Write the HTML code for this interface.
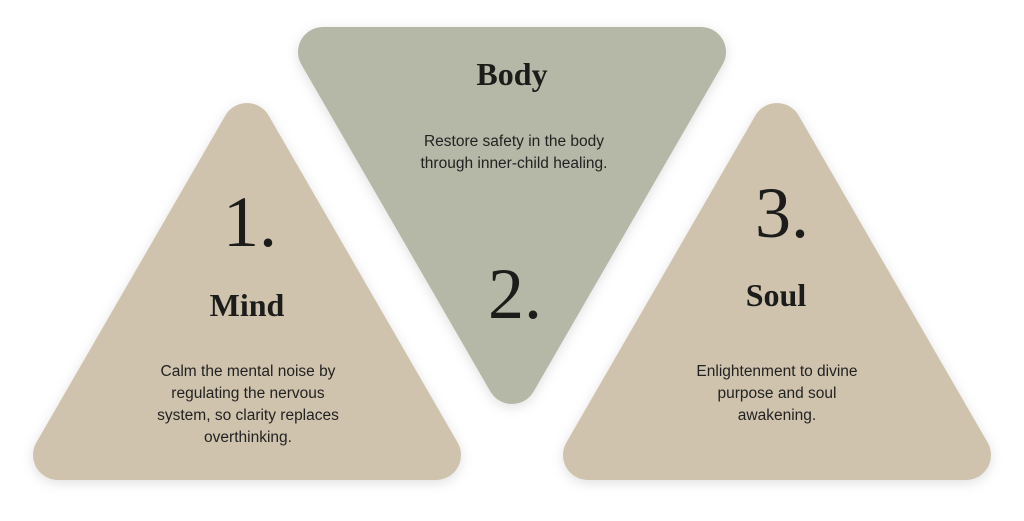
<!DOCTYPE html>
<html><head><style>
html,body{margin:0;padding:0;background:#fff;width:1024px;height:521px;overflow:hidden}
svg{display:block}
.s{font-family:"Liberation Serif",serif;fill:#1c1c1a;text-anchor:middle}
.t{font-family:"Liberation Sans",sans-serif;fill:#222;font-size:15.5px;text-anchor:middle}
</style></head><body>
<svg width="1024" height="521" viewBox="0 0 1024 521">
<defs><filter id="sh" x="-20%" y="-20%" width="140%" height="140%"><feDropShadow dx="0" dy="3" stdDeviation="6" flood-color="#000" flood-opacity="0.12"/></filter></defs>
<g stroke-linejoin="round" stroke-width="50" filter="url(#sh)">
<polygon points="247,128 436,455 58,455" fill="#cfc3ad" stroke="#cfc3ad"/>
<polygon points="777,128 966,455 588,455" fill="#cfc3ad" stroke="#cfc3ad"/>
<polygon points="323,52 701,52 512,379" fill="#b5b8a6" stroke="#b5b8a6"/>
</g>
<text class="s" x="512" y="85" font-size="32" font-weight="bold">Body</text>
<text class="t" x="514" y="146">Restore safety in the body</text>
<text class="t" x="514" y="168">through inner-child healing.</text>
<text class="s" x="515" y="318" font-size="72">2.</text>
<text class="s" x="250" y="246" font-size="72">1.</text>
<text class="s" x="247" y="316" font-size="32" font-weight="bold">Mind</text>
<text class="t" x="248" y="376">Calm the mental noise by</text>
<text class="t" x="248" y="398">regulating the nervous</text>
<text class="t" x="248" y="420">system, so clarity replaces</text>
<text class="t" x="248" y="442">overthinking.</text>
<text class="s" x="782" y="237" font-size="72">3.</text>
<text class="s" x="776" y="306" font-size="32" font-weight="bold">Soul</text>
<text class="t" x="777" y="376">Enlightenment to divine</text>
<text class="t" x="777" y="398">purpose and soul</text>
<text class="t" x="777" y="420">awakening.</text>
</svg>
</body></html>
